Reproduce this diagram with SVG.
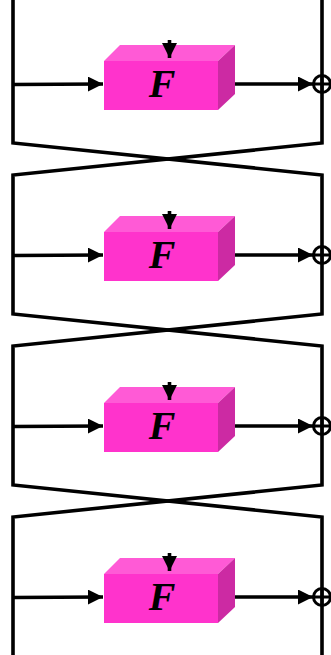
<svg xmlns="http://www.w3.org/2000/svg" width="331" height="655" viewBox="0 0 331 655">
  <style>
    .wire { fill: none; stroke: #000; stroke-width: 3.6; stroke-linejoin: miter; }
    .front { fill: #ff33cc; }
    .top { fill: #ff5ad6; }
    .side { fill: #cc2aa3; }
    .lbl { font-family: "Liberation Serif", "Times New Roman", serif; font-style: italic; font-weight: bold; font-size: 40px; fill: #000; }
    .xor { fill: none; stroke: #000; stroke-width: 3; }
  </style>
  <defs>
    <marker id="ah" viewBox="0 0 10 10" refX="10" refY="5" markerUnits="userSpaceOnUse" markerWidth="15" markerHeight="15" orient="auto">
      <path d="M0,0 L10,5 L0,10 Z" fill="#000"/>
    </marker>
    <!-- one round: the F block drawn as a box -->
    <g id="round">
      <polygon class="top" points="104,61 120,45 235,45 218,61"/>
      <polygon class="side" points="218,61 235,45 235,94 218,110"/>
      <rect class="front" x="104" y="61" width="114" height="49"/>
      <text class="lbl" x="162" y="97" text-anchor="middle">F</text>
    </g>
  </defs>

  <!-- feistel rounds -->
  <g id="round1"><use href="#round"/></g>
  <g id="round2" transform="translate(0,171)"><use href="#round"/></g>
  <g id="round3" transform="translate(0,342)"><use href="#round"/></g>
  <g id="round4" transform="translate(0,513)"><use href="#round"/></g>

  <!-- xor nodes -->
  <g id="xor1"><circle class="xor" cx="322" cy="84" r="8.5"/><path class="xor" d="M313.5,84 H330.5 M322,75.5 V92.5"/></g>
  <g id="xor2"><circle class="xor" cx="322" cy="255" r="8.5"/><path class="xor" d="M313.5,255 H330.5 M322,246.5 V263.5"/></g>
  <g id="xor3"><circle class="xor" cx="322" cy="426" r="8.5"/><path class="xor" d="M313.5,426 H330.5 M322,417.5 V434.5"/></g>
  <g id="xor4"><circle class="xor" cx="322" cy="597" r="8.5"/><path class="xor" d="M313.5,597 H330.5 M322,588.5 V605.5"/></g>

  <g id="connectors">
    <!-- left and right halves with swaps between rounds -->
    <path class="wire" d="M13,0 V143 L322,175 V314 L13,346 V485 L322,517 V655"/>
    <path class="wire" d="M322,0 V143 L13,175 V314 L322,346 V485 L13,517 V655"/>
    <!-- round 1 -->
    <line class="wire" x1="13" y1="84.5" x2="103" y2="84" marker-end="url(#ah)"/>
    <line class="wire" x1="235" y1="84" x2="313" y2="84" marker-end="url(#ah)"/>
    <line class="wire" x1="169.5" y1="40" x2="169.5" y2="58" marker-end="url(#ah)"/>
    <!-- round 2 -->
    <line class="wire" x1="13" y1="255.5" x2="103" y2="255" marker-end="url(#ah)"/>
    <line class="wire" x1="235" y1="255" x2="313" y2="255" marker-end="url(#ah)"/>
    <line class="wire" x1="169.5" y1="211" x2="169.5" y2="229" marker-end="url(#ah)"/>
    <!-- round 3 -->
    <line class="wire" x1="13" y1="426.5" x2="103" y2="426" marker-end="url(#ah)"/>
    <line class="wire" x1="235" y1="426" x2="313" y2="426" marker-end="url(#ah)"/>
    <line class="wire" x1="169.5" y1="382" x2="169.5" y2="400" marker-end="url(#ah)"/>
    <!-- round 4 -->
    <line class="wire" x1="13" y1="597.5" x2="103" y2="597" marker-end="url(#ah)"/>
    <line class="wire" x1="235" y1="597" x2="313" y2="597" marker-end="url(#ah)"/>
    <line class="wire" x1="169.5" y1="553" x2="169.5" y2="571" marker-end="url(#ah)"/>
  </g>
</svg>
